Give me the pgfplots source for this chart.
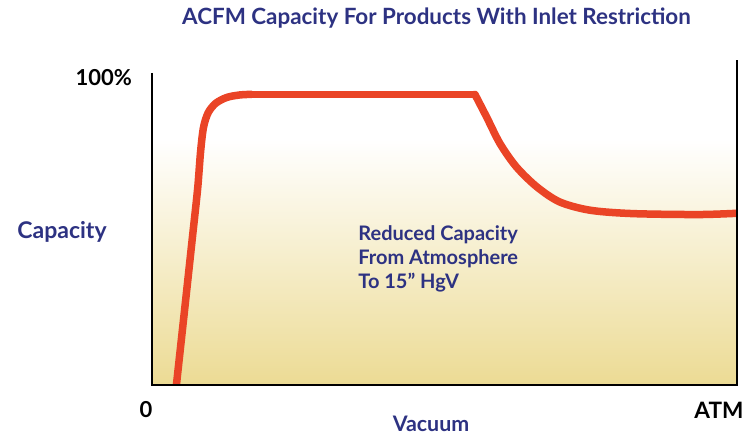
\documentclass[border=0pt]{standalone}
\usepackage{pgfplots}
\pgfplotsset{compat=1.18}
\usepackage{fontspec}
\setmainfont{Lato}
\definecolor{navy}{RGB}{45,50,130}
\definecolor{curvered}{RGB}{234,68,38}
\definecolor{tanbase}{RGB}{236,219,148}
\definecolor{midtan}{RGB}{243,233,188}
\begin{document}
\begin{tikzpicture}[x=0.5pt,y=0.5pt]
\path[use as bounding box] (0,0) rectangle (751,435);
\begin{axis}[at={(76pt,25pt)}, anchor=south west, scale only axis,
  width=292.5pt, height=162.5pt, xmin=0, xmax=100, ymin=0, ymax=106,
  axis lines=none]
\fill[top color=white, middle color=midtan, bottom color=tanbase]
  (axis cs:0,0) rectangle (axis cs:100,80);
\addplot[curvered, line width=3.75pt, line cap=round, line join=round, smooth, tension=0.5]
  coordinates {(4.0,-3) (5.6,25) (6.9,48) (7.8,64) (8.3,76) (8.8,84) (9.6,88.8) (10.9,91.9) (12.8,93.8) (15,94.6) (17,94.8)};
\addplot[curvered, line width=3.75pt, line cap=round, line join=round]
  coordinates {(17,94.8) (55.2,94.8)};
\addplot[curvered, line width=3.75pt, line cap=round, line join=round, smooth, tension=0.5]
  coordinates {(55.2,94.8) (57.2,87.4) (59.5,78.7) (62.3,71.1) (65.8,64.6) (69.7,59.7) (74.9,57.0) (82.2,55.9) (93.7,55.6) (101,56.1)};
\end{axis}
\draw[line width=1.25pt, black] (152,362) -- (152,50) -- (737,50) -- (737,375);
\node[font=\bfseries\fontsize{11.2}{13}\selectfont, text=navy] at (436.5,417) {ACFM Capacity For Products With Inlet Restriction};
\node[font=\bfseries\fontsize{11}{13}\selectfont, anchor=east] at (139,357) {100\%};
\node[font=\bfseries\fontsize{11.5}{13}\selectfont, text=navy] at (62,203) {Capacity};
\node[font=\bfseries\fontsize{11}{13}\selectfont] at (146,25) {0};
\node[font=\bfseries\fontsize{11.3}{13}\selectfont] at (719,25) {ATM};
\node[font=\bfseries\fontsize{10.7}{12}\selectfont, text=navy] at (431,11) {Vacuum};
\node[font=\bfseries\fontsize{10}{12}\selectfont, text=navy, align=left, anchor=west, inner sep=0pt] at (358,176) {Reduced Capacity\\From Atmosphere\\To 15" HgV};
\end{tikzpicture}
\end{document}
